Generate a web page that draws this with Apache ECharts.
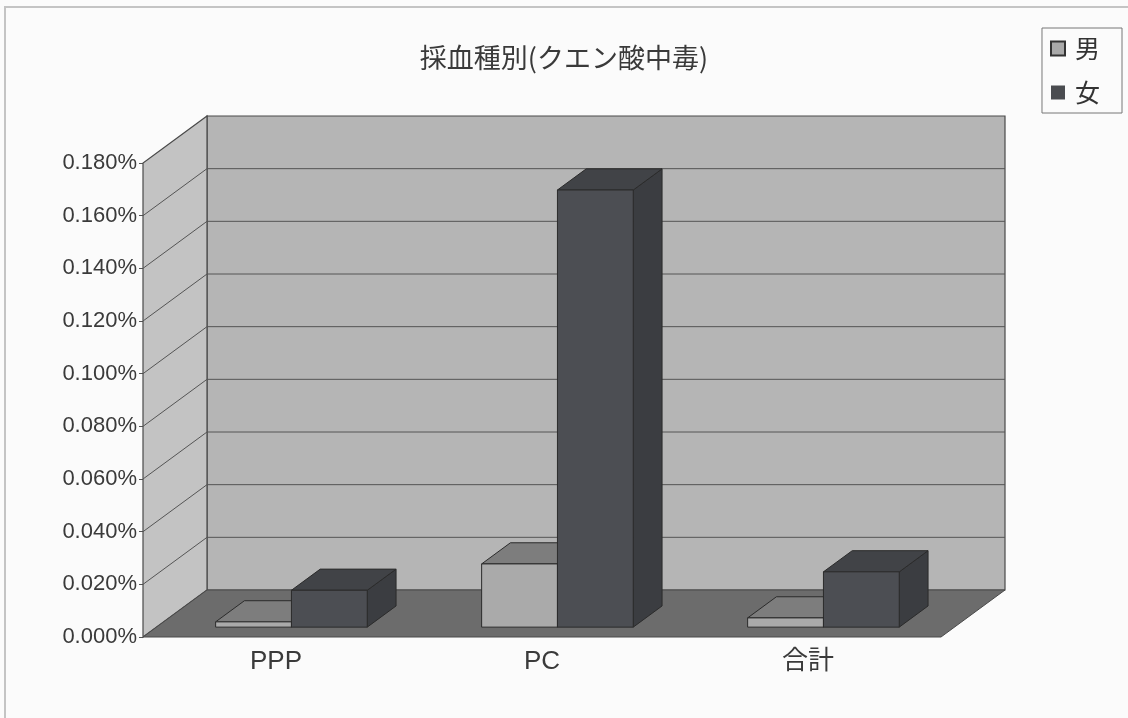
<!DOCTYPE html>
<html>
<head>
<meta charset="utf-8">
<style>
  html, body { margin: 0; padding: 0; background: #fbfbfb; }
  #chart { width: 1128px; height: 718px; }
</style>
</head>
<body>
<div id="chart"></div>
<script src="https://cdn.jsdelivr.net/npm/echarts@6/dist/echarts.min.js"></script>
<script>
// data (values in %)
var categories = ['PPP', 'PC', '合計'];
var maleValues = [0.002, 0.024, 0.0035];
var femaleValues = [0.014, 0.166, 0.021];
var yTicks = [0, 0.02, 0.04, 0.06, 0.08, 0.10, 0.12, 0.14, 0.16, 0.18];

// oblique projection of the 3D box
var DEPTH_X = 64, DEPTH_Y = -47;
var BAR_FRONT = 0.21, BAR_BACK = 0.66;
var FONT = '"Liberation Sans", Arial, "Noto Sans CJK JP", sans-serif';
var JP_FONT = '"Noto Sans CJK JP", sans-serif';

function wallsItem(params, api) {
    var cs = params.coordSys;
    var x0 = cs.x, x1 = cs.x + cs.width, y0 = cs.y + cs.height;
    var yTop = api.coord([0, yTicks[yTicks.length - 1]])[1];
    var dx = DEPTH_X, dy = DEPTH_Y;
    var children = [];
    // back wall
    children.push({ type: 'polygon', shape: { points: [[x0 + dx, yTop + dy], [x1 + dx, yTop + dy], [x1 + dx, y0 + dy], [x0 + dx, y0 + dy]] },
        style: { fill: '#b5b5b5', stroke: '#4a4a4a', lineWidth: 1.2 } });
    // left wall
    children.push({ type: 'polygon', shape: { points: [[x0, y0], [x0, yTop], [x0 + dx, yTop + dy], [x0 + dx, y0 + dy]] },
        style: { fill: '#c3c3c3', stroke: '#4a4a4a', lineWidth: 1.2 } });
    // floor
    children.push({ type: 'polygon', shape: { points: [[x0, y0], [x1, y0], [x1 + dx, y0 + dy], [x0 + dx, y0 + dy]] },
        style: { fill: '#6c6c6c', stroke: '#4a4a4a', lineWidth: 1 } });
    // grid lines
    yTicks.forEach(function (t, i) {
        if (i === 0 || i === yTicks.length - 1) return;
        var y = api.coord([0, t])[1];
        children.push({ type: 'line', shape: { x1: x0, y1: y, x2: x0 + dx, y2: y + dy },
            style: { stroke: '#555', lineWidth: 1 } });
        children.push({ type: 'line', shape: { x1: x0 + dx, y1: y + dy, x2: x1 + dx, y2: y + dy },
            style: { stroke: '#555', lineWidth: 1 } });
    });
    return { type: 'group', children: children };
}

function makeBar(side, fill) {
    return function (params, api) {
        var cat = api.value(0), val = api.value(1);
        var base = api.coord([cat, 0]);
        var top = api.coord([cat, val]);
        var band = api.size([1, 0])[0];
        var w = band * 0.285;
        var x0 = base[0] + (side === 0 ? -w : 0) + 2;
        var x1 = x0 + w;
        var fx = DEPTH_X * BAR_FRONT, fy = DEPTH_Y * BAR_FRONT;
        var bx = DEPTH_X * BAR_BACK, by = DEPTH_Y * BAR_BACK;
        var yb = base[1], yt = top[1];
        var line = { stroke: '#2b2b2b', lineWidth: 1 };
        return {
            type: 'group',
            children: [
                { type: 'polygon', shape: { points: [[x1 + fx, yb + fy], [x1 + bx, yb + by], [x1 + bx, yt + by], [x1 + fx, yt + fy]] },
                  style: Object.assign({ fill: fill[2] }, line) },
                { type: 'polygon', shape: { points: [[x0 + fx, yt + fy], [x1 + fx, yt + fy], [x1 + bx, yt + by], [x0 + bx, yt + by]] },
                  style: Object.assign({ fill: fill[1] }, line) },
                { type: 'polygon', shape: { points: [[x0 + fx, yb + fy], [x1 + fx, yb + fy], [x1 + fx, yt + fy], [x0 + fx, yt + fy]] },
                  style: Object.assign({ fill: fill[0] }, line) }
            ]
        };
    };
}

var chart = echarts.init(document.getElementById('chart'));
chart.setOption({
    backgroundColor: '#fbfbfb',
    animation: false,
    title: {
        text: '採血種別(クエン酸中毒)',
        left: 'center',
        top: 39,
        textStyle: { fontFamily: JP_FONT, fontSize: 27, fontWeight: 'normal', color: '#3a3a3a' }
    },
    legend: {
        data: ['男', '女'],
        orient: 'vertical',
        right: 6,
        top: 28,
        padding: [8, 22, 8, 8],
        itemGap: 19,
        itemWidth: 14,
        itemHeight: 14,
        icon: 'rect',
        borderColor: '#777',
        borderWidth: 1,
        textStyle: { fontFamily: JP_FONT, fontSize: 25, color: '#333', padding: [0, 0, 0, 5] }
    },
    graphic: [{
        type: 'rect',
        shape: { x: 5, y: 7, width: 1200, height: 800 },
        style: { fill: 'none', stroke: '#c4c4c4', lineWidth: 2 },
        silent: true
    }],
    grid: { left: 143, right: 187, top: 163, bottom: 81 },
    xAxis: {
        type: 'category',
        data: categories,
        axisLine: { show: false },
        axisTick: { show: false },
        axisLabel: { fontFamily: FONT, fontSize: 26, color: '#3a3a3a', margin: 12 }
    },
    yAxis: {
        type: 'value',
        min: 0,
        max: 0.18,
        interval: 0.02,
        axisLine: { show: false },
        axisTick: { show: true, length: 4, lineStyle: { color: '#555' } },
        splitLine: { show: false },
        axisLabel: {
            fontFamily: FONT, fontSize: 22, color: '#3a3a3a', margin: 6,
            formatter: function (v) { return v.toFixed(3) + '%'; }
        }
    },
    series: [
        {
            type: 'custom', name: 'walls', silent: true, z: 1,
            renderItem: wallsItem,
            data: [[0, 0]]
        },
        {
            type: 'custom', name: '男', z: 2,
            itemStyle: { color: '#a9a9a9', borderColor: '#333', borderWidth: 1 },
            renderItem: makeBar(0, ['#aaaaaa', '#7d7d7d', '#777777']),
            encode: { x: 0, y: 1 },
            data: maleValues.map(function (v, i) { return [i, v]; })
        },
        {
            type: 'custom', name: '女', z: 3,
            itemStyle: { color: '#4a4c50' },
            renderItem: makeBar(1, ['#4c4e53', '#414347', '#3b3d41']),
            encode: { x: 0, y: 1 },
            data: femaleValues.map(function (v, i) { return [i, v]; })
        }
    ]
});
</script>
</body>
</html>
